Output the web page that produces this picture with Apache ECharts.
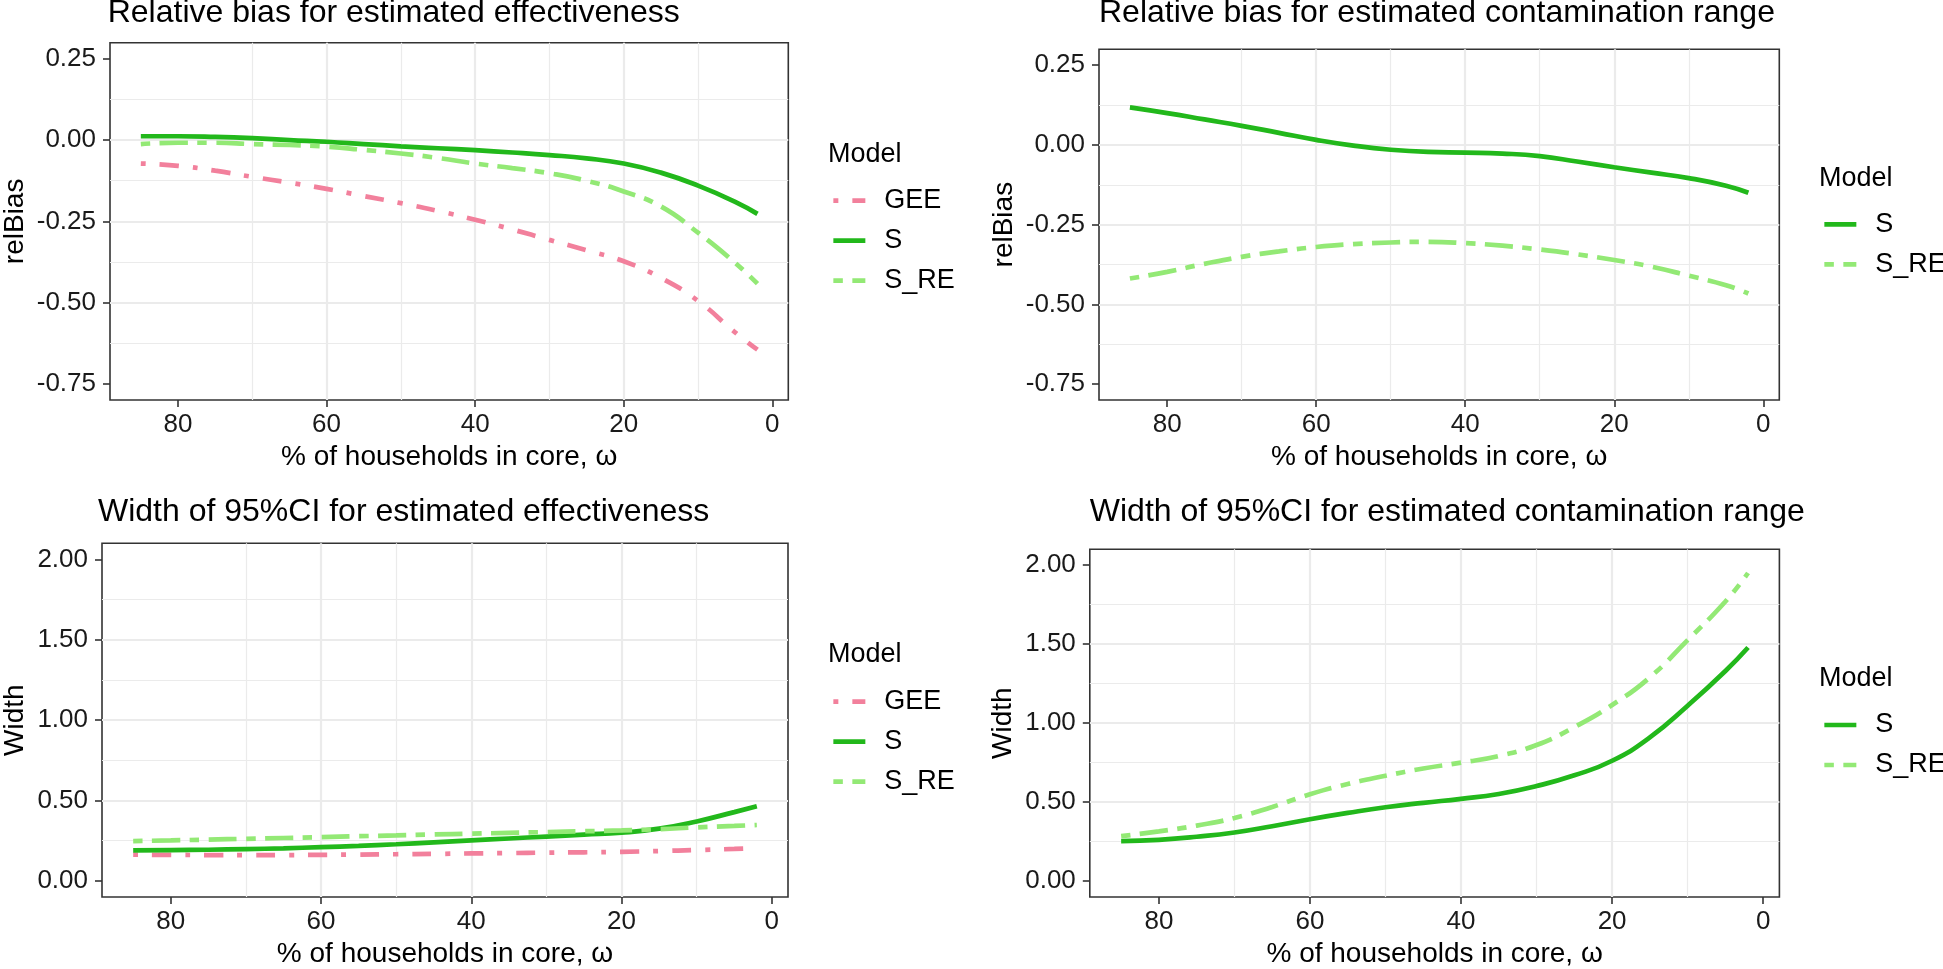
<!DOCTYPE html>
<html>
<head>
<meta charset="utf-8">
<script src="https://cdn.jsdelivr.net/npm/echarts@6/dist/echarts.min.js"></script>
<style>
html,body{margin:0;padding:0;background:#fff;}
#chart{width:1943px;height:969px;}
</style>
</head>
<body>
<div id="chart"></div>
<script>
// ---------- data ----------
const xVals = [85, 80, 75, 70, 65, 60, 55, 50, 45, 40, 35, 30, 25, 20, 15, 10, 5, 2];

// Relative bias, estimated effectiveness
const tlGEE = [-0.072, -0.079, -0.094, -0.113, -0.131, -0.150, -0.172, -0.194, -0.218, -0.245, -0.275, -0.307, -0.339, -0.373, -0.424, -0.495, -0.592, -0.645];
const tlS   = [0.012, 0.012, 0.010, 0.006, 0.000, -0.005, -0.012, -0.019, -0.025, -0.031, -0.038, -0.046, -0.056, -0.072, -0.100, -0.140, -0.190, -0.227];
const tlSRE = [-0.012, -0.008, -0.008, -0.012, -0.015, -0.020, -0.030, -0.041, -0.055, -0.072, -0.086, -0.102, -0.125, -0.158, -0.204, -0.285, -0.378, -0.442];

// Relative bias, estimated contamination range
const trS   = [0.118, 0.100, 0.080, 0.060, 0.038, 0.016, -0.002, -0.015, -0.022, -0.024, -0.027, -0.035, -0.052, -0.070, -0.087, -0.104, -0.128, -0.150];
const trSRE = [-0.419, -0.398, -0.373, -0.351, -0.334, -0.320, -0.311, -0.306, -0.304, -0.308, -0.316, -0.328, -0.343, -0.361, -0.382, -0.410, -0.440, -0.466];

// Width of 95%CI, estimated effectiveness
const blGEE = [0.163, 0.162, 0.161, 0.161, 0.161, 0.162, 0.164, 0.166, 0.168, 0.171, 0.173, 0.176, 0.178, 0.181, 0.186, 0.192, 0.199, 0.204];
const blS   = [0.190, 0.192, 0.194, 0.198, 0.203, 0.210, 0.218, 0.228, 0.240, 0.252, 0.264, 0.276, 0.288, 0.300, 0.325, 0.370, 0.428, 0.464];
const blSRE = [0.248, 0.252, 0.257, 0.262, 0.267, 0.272, 0.278, 0.283, 0.289, 0.294, 0.299, 0.304, 0.309, 0.314, 0.322, 0.333, 0.342, 0.348];

// Width of 95%CI, estimated contamination range
const brS   = [0.254, 0.262, 0.281, 0.308, 0.348, 0.392, 0.432, 0.468, 0.496, 0.521, 0.552, 0.602, 0.670, 0.762, 0.910, 1.110, 1.330, 1.479];
const brSRE = [0.285, 0.315, 0.352, 0.400, 0.470, 0.550, 0.615, 0.667, 0.713, 0.750, 0.792, 0.862, 0.975, 1.115, 1.290, 1.525, 1.770, 1.950];

const xTicks = [0, 20, 40, 60, 80];
const biasTicks = [-0.75, -0.5, -0.25, 0, 0.25];
const widthTicks = [0, 0.5, 1, 1.5, 2];

const titles = [
  'Relative bias for estimated effectiveness',
  'Relative bias for estimated contamination range',
  'Width of 95%CI for estimated effectiveness',
  'Width of 95%CI for estimated contamination range'
];
const xTitle = '% of households in core, \u03c9';
const legendTitle = 'Model';

// ---------- styles / layout ----------
const FONT = "'Liberation Sans', Arial, Helvetica, sans-serif";
const LW = 4.7;
const seriesStyle = {
  'GEE':  { color: '#F2809C', type: [5, 14, 19, 14] },
  'S':    { color: '#22B81B', type: 'solid' },
  'S_RE': { color: '#93E975', type: [9.5, 9.5, 28, 9.5] }
};

const panels = [
  { grid: { left: 107.7, top: 42.7, width: 680.6, height: 357.3 }, yName: 'relBias', yMin: -0.8, yMax: 0.3, yStep: 0.25, yTicks: biasTicks, yGap: 81,
    series: [['GEE', tlGEE], ['S', tlS], ['S_RE', tlSRE]], titleTop: -2.5, modelPos: [828, 141], legendPos: [831, 187.2], xGap: 43 },
  { grid: { left: 1099, top: 49.3, width: 680.3, height: 350.7 }, yName: 'relBias', yMin: -0.8, yMax: 0.3, yStep: 0.25, yTicks: biasTicks, yGap: 81,
    series: [['S', trS], ['S_RE', trSRE]], titleTop: -2.5, modelPos: [1819, 165], legendPos: [1822, 210.8], xGap: 43 },
  { grid: { left: 98, top: 543.3, width: 690, height: 357.4 }, yName: 'Width', yMin: -0.1, yMax: 2.1, yStep: 0.5, yTicks: widthTicks, yGap: 73,
    series: [['GEE', blGEE], ['S', blS], ['S_RE', blSRE]], titleTop: 496.5, modelPos: [828, 641], legendPos: [831, 688.2], xGap: 43 },
  { grid: { left: 1089.8, top: 549.3, width: 689.6, height: 351.4 }, yName: 'Width', yMin: -0.1, yMax: 2.1, yStep: 0.5, yTicks: widthTicks, yGap: 73,
    series: [['S', brS], ['S_RE', brSRE]], titleTop: 496.5, modelPos: [1819, 665], legendPos: [1822, 711.5], xGap: 43 }
];

const option = {
  backgroundColor: '#ffffff',
  animation: false,
  textStyle: { fontFamily: FONT },
  title: [], grid: [], xAxis: [], yAxis: [], legend: [], series: []
};

panels.forEach((p, i) => {
  option.grid.push(Object.assign({ show: true, borderColor: '#333333', borderWidth: 1.6, backgroundColor: 'transparent', containLabel: false }, p.grid));
  option.title.push({
    text: titles[i], left: p.grid.left, top: p.titleTop, padding: 0,
    textStyle: { fontFamily: FONT, fontSize: 32, fontWeight: 'normal', color: '#000', lineHeight: 32 }
  });
  option.title.push({
    text: legendTitle, left: p.modelPos[0], top: p.modelPos[1], padding: 0,
    textStyle: { fontFamily: FONT, fontSize: 27, fontWeight: 'normal', color: '#000', lineHeight: 28 }
  });
  option.xAxis.push({
    gridIndex: i, type: 'value', position: 'bottom', inverse: true, min: -2.15, max: 89.15,
    minInterval: 20, maxInterval: 20,
    name: xTitle, nameLocation: 'middle', nameGap: p.xGap,
    nameTextStyle: { fontFamily: FONT, fontSize: 28, color: '#000', lineHeight: 28 },
    axisLine: { show: false, onZero: false },
    axisTick: { show: true, inside: false, length: 7, customValues: xTicks, lineStyle: { color: '#333', width: 1.6 } },
    axisLabel: { customValues: xTicks, fontFamily: FONT, fontSize: 26, color: '#1A1A1A', margin: 12, lineHeight: 26 },
    splitLine: { show: true, showMinLine: false, showMaxLine: false, lineStyle: { color: '#EBEBEB', width: 2.2 } },
    minorTick: { show: false, splitNumber: 2 },
    minorSplitLine: { show: true, lineStyle: { color: '#EBEBEB', width: 1.2 } }
  });
  option.yAxis.push({
    gridIndex: i, type: 'value', position: 'left', min: p.yMin, max: p.yMax,
    minInterval: p.yStep, maxInterval: p.yStep,
    name: p.yName, nameLocation: 'middle', nameGap: p.yGap,
    nameTextStyle: { fontFamily: FONT, fontSize: 28, color: '#000', lineHeight: 28 },
    axisLine: { show: false, onZero: false },
    axisTick: { show: true, inside: false, length: 7, customValues: p.yTicks, lineStyle: { color: '#333', width: 1.6 } },
    axisLabel: { customValues: p.yTicks, fontFamily: FONT, fontSize: 26, color: '#1A1A1A', margin: 14,
      formatter: v => Number(v).toFixed(2) },
    splitLine: { show: true, showMinLine: false, showMaxLine: false, lineStyle: { color: '#EBEBEB', width: 2.2 } },
    minorTick: { show: false, splitNumber: 2 },
    minorSplitLine: { show: true, lineStyle: { color: '#EBEBEB', width: 1.2 } }
  });
  option.legend.push({
    orient: 'vertical', left: p.legendPos[0], top: p.legendPos[1], padding: 0,
    itemWidth: 32, itemHeight: 14, itemGap: 13, selectedMode: false,
    data: p.series.map(s => s[0]),
    itemStyle: { opacity: 0, borderWidth: 0 },
    lineStyle: { width: LW },
    textStyle: { fontFamily: FONT, fontSize: 27, color: '#000', lineHeight: 27, padding: [0, 0, 0, 14] }
  });
  p.series.forEach(([name, vals]) => {
    const st = seriesStyle[name];
    option.series.push({
      name: name, type: 'line', xAxisIndex: i, yAxisIndex: i,
      data: xVals.map((x, k) => [x, vals[k]]),
      showSymbol: false, symbol: 'none', smooth: 0.5,
      color: st.color,
      lineStyle: { color: st.color, width: LW, type: st.type, cap: 'butt' },
      emphasis: { disabled: true }
    });
  });
});

const chart = echarts.init(document.getElementById('chart'), null, { renderer: 'canvas', width: 1943, height: 969 });
chart.setOption(option);
</script>
</body>
</html>
